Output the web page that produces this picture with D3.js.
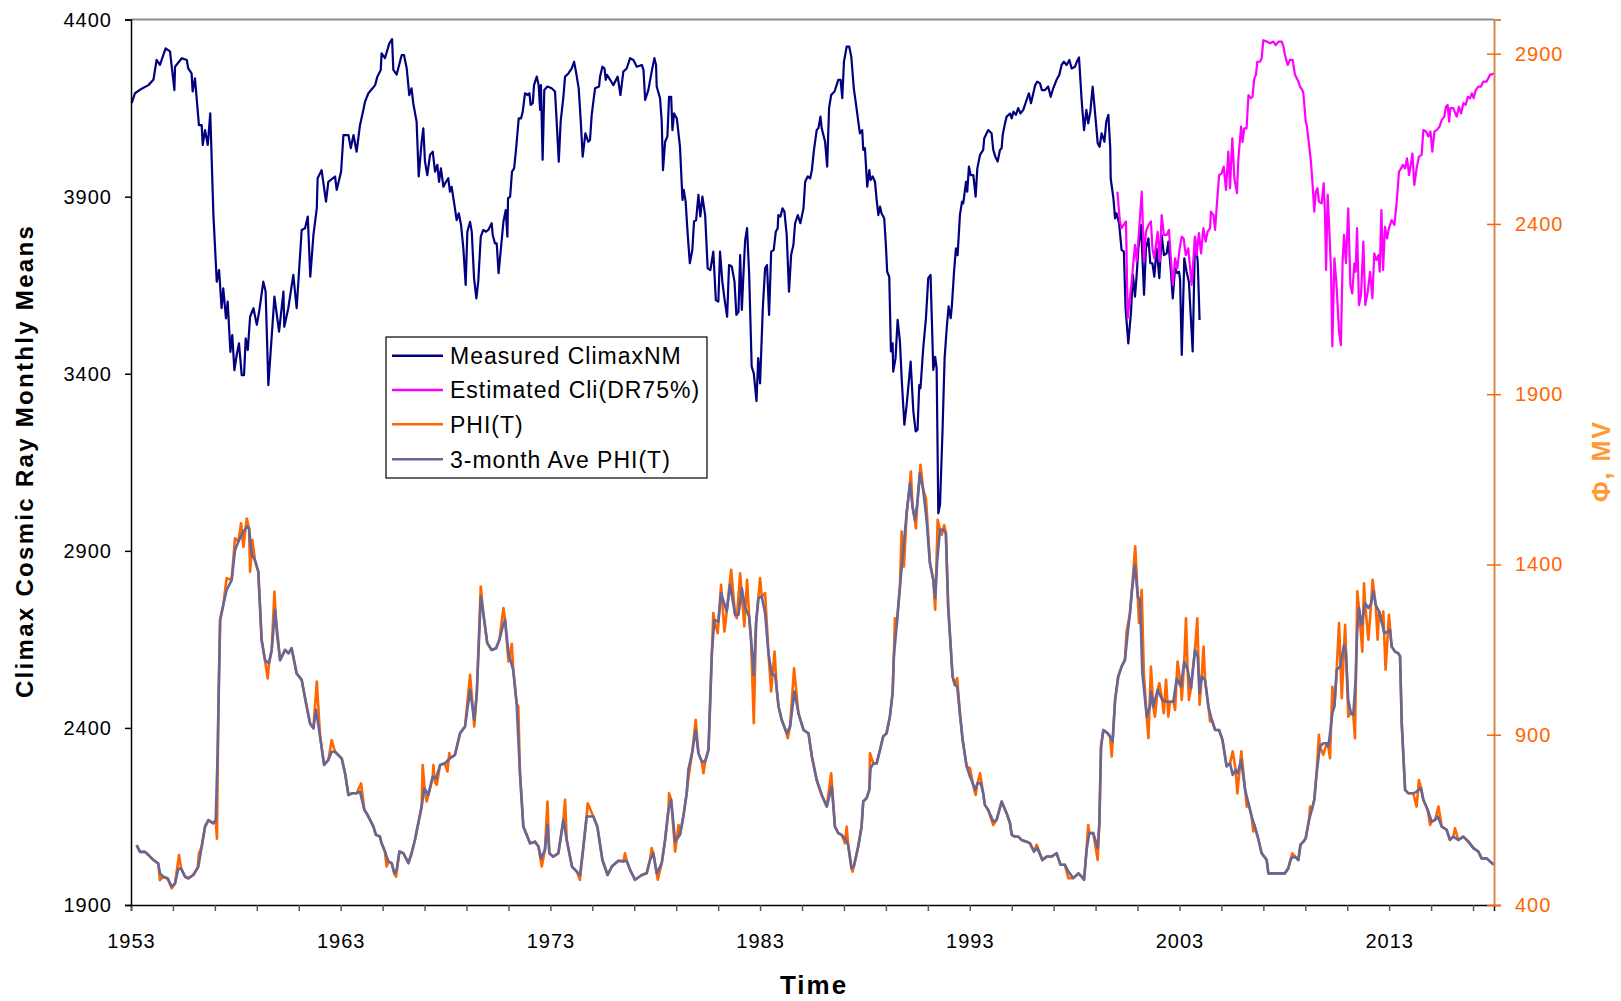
<!DOCTYPE html>
<html>
<head>
	<meta charset="utf-8">
	<title>Climax cosmic ray monthly means</title>
	<style type="text/css">
		body { margin: 0; background: #fff; }
		svg { display: block; font-family: "Liberation Sans", Arial, sans-serif; }
	</style>
</head>
<body>
<script type="text/javascript" src="https://cdn.jsdelivr.net/npm/d3@7"></script>
<script type="text/javascript">
	/*========= DATA (year, value) =========*/
	var yearLabels = [1953, 1963, 1973, 1983, 1993, 2003, 2013];
	var leftTicks = [1900, 2400, 2900, 3400, 3900, 4400];
	var rightTicks = [400, 900, 1400, 1900, 2400, 2900];
	var seriesNames = ["Measured ClimaxNM", "Estimated Cli(DR75%)", "PHI(T)", "3-month Ave PHI(T)"];

	// left axis
	var measuredClimax = [
		[1953.03,4164],[1953.19,4192],[1953.51,4205],[1953.83,4215],[1954.07,4230],[1954.22,4286],[1954.38,4272],[1954.65,4319],
		[1954.86,4310],[1955.07,4201],[1955.10,4267],[1955.42,4291],[1955.66,4286],[1955.73,4262],[1955.89,4248],[1955.94,4197],
		[1956.05,4234],[1956.24,4102],[1956.37,4102],[1956.42,4046],[1956.53,4088],[1956.66,4046],[1956.78,4135],[1956.93,3848],
		[1957.09,3660],[1957.20,3693],[1957.32,3585],[1957.40,3641],[1957.53,3556],[1957.61,3604],[1957.74,3462],[1957.83,3509],
		[1957.93,3410],[1958.04,3453],[1958.15,3486],[1958.28,3396],[1958.39,3396],[1958.47,3500],[1958.57,3467],[1958.68,3561],
		[1958.84,3585],[1959.00,3538],[1959.11,3575],[1959.31,3660],[1959.42,3632],[1959.55,3368],[1959.84,3618],[1960.06,3519],
		[1960.27,3632],[1960.31,3533],[1960.50,3585],[1960.74,3679],[1960.90,3585],[1961.14,3806],[1961.30,3811],[1961.43,3844],
		[1961.55,3674],[1961.70,3792],[1961.86,3867],[1961.90,3952],[1962.09,3975],[1962.30,3886],[1962.41,3942],[1962.73,3957],
		[1962.81,3919],[1963.02,3971],[1963.13,4074],[1963.37,4074],[1963.48,4037],[1963.61,4074],[1963.76,4027],[1963.92,4102],
		[1964.08,4145],[1964.16,4168],[1964.32,4192],[1964.52,4206],[1964.64,4215],[1964.75,4239],[1964.91,4258],[1964.95,4305],
		[1965.11,4291],[1965.32,4333],[1965.45,4345],[1965.51,4258],[1965.67,4245],[1965.91,4300],[1966.02,4300],[1966.15,4262],
		[1966.27,4187],[1966.38,4206],[1966.46,4164],[1966.62,4112],[1966.72,3957],[1966.86,4055],[1966.94,4093],[1967.02,3999],
		[1967.13,3961],[1967.26,4018],[1967.39,4027],[1967.50,3971],[1967.61,3990],[1967.69,3942],[1967.78,3980],[1967.90,3928],
		[1968.02,3942],[1968.13,3952],[1968.21,3914],[1968.29,3928],[1968.40,3886],[1968.53,3834],[1968.63,3853],[1968.74,3820],
		[1968.85,3754],[1968.96,3651],[1969.04,3801],[1969.17,3829],[1969.25,3801],[1969.36,3670],[1969.47,3613],[1969.56,3660],
		[1969.68,3787],[1969.80,3806],[1969.93,3801],[1970.04,3806],[1970.20,3825],[1970.25,3792],[1970.36,3768],[1970.44,3768],
		[1970.53,3684],[1970.65,3759],[1970.76,3829],[1970.87,3862],[1970.95,3787],[1970.98,3895],[1971.08,3900],[1971.17,3971],
		[1971.27,3980],[1971.36,4032],[1971.49,4121],[1971.60,4121],[1971.68,4140],[1971.79,4192],[1971.92,4187],[1972.00,4192],
		[1972.06,4159],[1972.16,4164],[1972.22,4215],[1972.35,4239],[1972.44,4215],[1972.51,4145],[1972.55,4215],[1972.63,4004],
		[1972.71,4201],[1972.86,4211],[1973.06,4206],[1973.22,4197],[1973.30,4112],[1973.40,3999],[1973.49,4112],[1973.62,4182],
		[1973.70,4239],[1973.86,4248],[1974.02,4262],[1974.13,4281],[1974.22,4253],[1974.35,4206],[1974.45,4112],[1974.54,4013],
		[1974.67,4079],[1974.81,4055],[1974.89,4060],[1974.97,4131],[1975.13,4206],[1975.32,4211],[1975.37,4239],[1975.48,4267],
		[1975.58,4262],[1975.64,4230],[1975.70,4244],[1975.85,4230],[1976.00,4215],[1976.21,4239],[1976.34,4187],[1976.48,4253],
		[1976.64,4262],[1976.80,4291],[1976.96,4286],[1977.12,4267],[1977.36,4272],[1977.44,4258],[1977.52,4173],[1977.67,4201],
		[1977.83,4253],[1977.96,4291],[1978.04,4272],[1978.07,4211],[1978.23,4178],[1978.31,4112],[1978.37,3975],[1978.47,4055],
		[1978.58,4070],[1978.66,4182],[1978.76,4182],[1978.82,4088],[1978.90,4135],[1979.03,4121],[1979.18,4041],[1979.30,3891],
		[1979.36,3919],[1979.45,3886],[1979.55,3792],[1979.65,3712],[1979.77,3750],[1979.85,3830],[1979.95,3834],[1980.06,3905],
		[1980.15,3844],[1980.25,3900],[1980.38,3848],[1980.50,3698],[1980.63,3693],[1980.77,3745],[1980.89,3608],[1981.01,3604],
		[1981.09,3745],[1981.20,3660],[1981.30,3613],[1981.43,3561],[1981.52,3707],[1981.65,3703],[1981.78,3660],[1981.87,3566],
		[1981.97,3575],[1982.05,3735],[1982.13,3580],[1982.22,3698],[1982.29,3778],[1982.38,3811],[1982.48,3679],[1982.60,3420],
		[1982.70,3401],[1982.83,3323],[1982.91,3444],[1983.00,3373],[1983.13,3585],[1983.24,3698],[1983.33,3707],[1983.43,3566],
		[1983.53,3745],[1983.65,3750],[1983.75,3801],[1983.84,3811],[1983.87,3848],[1983.97,3844],[1984.07,3867],[1984.16,3858],
		[1984.27,3792],[1984.38,3632],[1984.48,3735],[1984.59,3764],[1984.67,3825],[1984.80,3848],[1984.92,3825],[1985.07,3867],
		[1985.15,3942],[1985.27,3957],[1985.39,3952],[1985.47,3975],[1985.56,4027],[1985.70,4088],[1985.78,4093],[1985.88,4126],
		[1985.94,4093],[1986.10,4055],[1986.20,3985],[1986.29,4150],[1986.39,4187],[1986.55,4197],[1986.73,4230],[1986.84,4230],
		[1986.92,4178],[1987.00,4281],[1987.13,4324],[1987.25,4324],[1987.35,4295],[1987.47,4206],[1987.60,4150],[1987.76,4079],
		[1987.87,4088],[1987.92,4032],[1988.00,4037],[1988.11,3928],[1988.21,3975],[1988.27,3947],[1988.37,3957],[1988.48,3942],
		[1988.56,3891],[1988.64,3848],[1988.72,3872],[1988.79,3853],[1988.92,3839],[1989.00,3764],[1989.06,3688],[1989.16,3674],
		[1989.24,3463],[1989.32,3486],[1989.35,3406],[1989.46,3444],[1989.56,3552],[1989.67,3491],[1989.76,3378],[1989.88,3256],
		[1989.99,3312],[1990.18,3434],[1990.31,3293],[1990.42,3237],[1990.51,3242],[1990.59,3368],[1990.65,3359],[1990.78,3472],
		[1990.91,3557],[1991.02,3670],[1991.13,3679],[1991.26,3411],[1991.35,3448],[1991.42,3415],[1991.50,3006],[1991.58,3030],
		[1991.70,3237],[1991.80,3444],[1991.90,3528],[1991.99,3590],[1992.09,3557],[1992.15,3594],[1992.25,3688],[1992.34,3754],
		[1992.42,3735],[1992.53,3848],[1992.63,3886],[1992.69,3881],[1992.82,3942],[1992.88,3914],[1992.96,3985],[1993.04,3961],
		[1993.17,3961],[1993.28,3900],[1993.36,3980],[1993.49,4018],[1993.64,4032],[1993.69,4065],[1993.88,4088],[1994.04,4079],
		[1994.12,4032],[1994.22,4013],[1994.33,3999],[1994.44,4032],[1994.52,4037],[1994.57,4074],[1994.68,4107],[1994.76,4126],
		[1994.92,4135],[1995.00,4121],[1995.08,4140],[1995.20,4131],[1995.31,4150],[1995.42,4135],[1995.55,4145],[1995.71,4173],
		[1995.82,4192],[1995.92,4164],[1996.03,4192],[1996.12,4215],[1996.22,4225],[1996.35,4220],[1996.44,4201],[1996.59,4201],
		[1996.74,4211],[1996.86,4182],[1996.98,4206],[1997.14,4230],[1997.27,4244],[1997.38,4272],[1997.49,4281],[1997.62,4272],
		[1997.75,4286],[1997.86,4262],[1998.02,4267],[1998.14,4286],[1998.21,4293],[1998.34,4168],[1998.45,4088],[1998.56,4145],
		[1998.65,4107],[1998.75,4140],[1998.86,4211],[1998.97,4140],[1999.10,4051],[1999.19,4041],[1999.29,4079],[1999.42,4055],
		[1999.51,4112],[1999.61,4131],[1999.70,4037],[1999.72,3952],[1999.85,3895],[1999.93,3839],[2000.00,3853],[2000.12,3825],
		[2000.24,3750],[2000.35,3745],[2000.43,3585],[2000.56,3486],[2000.69,3575],[2000.78,3679],[2000.88,3618],[2000.96,3679],
		[2001.04,3754],[2001.17,3820],[2001.31,3623],[2001.40,3754],[2001.52,3782],[2001.61,3712],[2001.71,3712],[2001.80,3674],
		[2001.91,3754],[2002.04,3670],[2002.15,3792],[2002.26,3735],[2002.39,3740],[2002.47,3773],[2002.60,3684],[2002.68,3613],
		[2002.79,3698],[2002.90,3684],[2002.98,3688],[2003.03,3665],[2003.11,3453],[2003.23,3726],[2003.34,3688],[2003.45,3660],
		[2003.63,3463],[2003.74,3782],[2003.87,3717],[2003.96,3552]
	];

	// left axis
	var estimatedCli = [
		[2000.04,3914],[2000.16,3830],[2000.24,3811],[2000.45,3830],[2000.53,3557],[2000.72,3660],[2000.88,3764],[2000.96,3717],
		[2001.07,3801],[2001.20,3914],[2001.31,3717],[2001.40,3801],[2001.52,3820],[2001.64,3830],[2001.71,3754],[2001.80,3726],
		[2001.96,3801],[2002.06,3717],[2002.15,3848],[2002.26,3792],[2002.39,3792],[2002.50,3806],[2002.60,3717],[2002.69,3651],
		[2002.79,3726],[2002.90,3698],[2003.01,3754],[2003.11,3787],[2003.20,3782],[2003.30,3735],[2003.42,3754],[2003.58,3651],
		[2003.74,3787],[2003.82,3735],[2003.93,3797],[2004.03,3740],[2004.14,3811],[2004.25,3773],[2004.34,3801],[2004.46,3811],
		[2004.50,3858],[2004.62,3848],[2004.70,3806],[2004.77,3867],[2004.89,3961],[2005.01,3966],[2005.11,3985],[2005.22,3919],
		[2005.33,4027],[2005.41,3924],[2005.52,4065],[2005.62,3952],[2005.74,3910],[2005.81,4008],[2005.94,4098],[2006.01,4055],
		[2006.09,4093],[2006.20,4093],[2006.29,4187],[2006.40,4178],[2006.48,4182],[2006.57,4234],[2006.65,4244],[2006.71,4281],
		[2006.84,4281],[2006.92,4291],[2007.00,4342],[2007.16,4338],[2007.32,4333],[2007.48,4338],[2007.59,4328],[2007.72,4338],
		[2007.88,4338],[2007.96,4324],[2008.03,4300],[2008.16,4272],[2008.27,4286],[2008.40,4286],[2008.51,4244],[2008.67,4225],
		[2008.75,4211],[2008.86,4201],[2008.91,4192],[2009.02,4112],[2009.07,4102],[2009.18,4046],[2009.27,3999],[2009.34,3942],
		[2009.43,3858],[2009.50,3914],[2009.58,3924],[2009.65,3886],[2009.78,3881],[2009.88,3938],[2009.94,3848],[2009.99,3693],
		[2010.07,3905],[2010.15,3801],[2010.23,3688],[2010.29,3477],[2010.39,3726],[2010.48,3660],[2010.61,3519],[2010.70,3481],
		[2010.78,3717],[2010.85,3792],[2010.94,3712],[2011.05,3867],[2011.15,3651],[2011.24,3627],[2011.34,3712],[2011.40,3688],
		[2011.47,3811],[2011.56,3594],[2011.66,3623],[2011.77,3773],[2011.86,3594],[2011.98,3632],[2012.09,3688],[2012.20,3613],
		[2012.29,3740],[2012.39,3721],[2012.49,3735],[2012.55,3688],[2012.63,3862],[2012.71,3693],[2012.80,3815],[2012.90,3782],
		[2012.99,3811],[2013.12,3834],[2013.25,3820],[2013.36,3886],[2013.47,3971],[2013.57,3980],[2013.65,3990],[2013.76,3980],
		[2013.85,4008],[2013.95,3961],[2014.04,3994],[2014.11,4022],[2014.20,3933],[2014.31,3980],[2014.42,4013],[2014.55,4018],
		[2014.63,4088],[2014.76,4084],[2014.87,4070],[2014.97,4084],[2015.06,4027],[2015.16,4084],[2015.27,4088],[2015.40,4098],
		[2015.51,4117],[2015.63,4126],[2015.71,4154],[2015.79,4159],[2015.86,4112],[2015.92,4150],[2016.06,4150],[2016.22,4126],
		[2016.33,4154],[2016.43,4135],[2016.54,4164],[2016.65,4159],[2016.75,4182],[2016.86,4178],[2016.94,4192],[2017.03,4178],
		[2017.13,4201],[2017.25,4211],[2017.38,4211],[2017.49,4225],[2017.65,4225],[2017.81,4244],[2018.00,4248]
	];

	// right axis
	var phiT = [
		[1953.27,575],[1953.43,556],[1953.67,556],[1953.83,547],[1954.07,532],[1954.30,522],[1954.38,473],[1954.54,483],
		[1954.75,478],[1954.94,449],[1955.10,463],[1955.29,547],[1955.39,507],[1955.58,483],[1955.73,478],[1955.97,488],
		[1956.18,510],[1956.24,552],[1956.37,571],[1956.53,630],[1956.69,649],[1956.93,640],[1957.04,649],[1957.10,595],
		[1957.17,1000],[1957.25,1237],[1957.40,1281],[1957.56,1360],[1957.80,1354],[1957.96,1477],[1958.12,1467],[1958.25,1521],
		[1958.36,1452],[1958.52,1535],[1958.63,1506],[1958.68,1379],[1958.79,1472],[1958.91,1413],[1959.07,1379],[1959.23,1178],
		[1959.39,1119],[1959.52,1065],[1959.58,1110],[1959.71,1149],[1959.84,1320],[1959.95,1200],[1960.11,1119],[1960.35,1149],
		[1960.51,1139],[1960.66,1154],[1960.90,1080],[1961.14,1061],[1961.38,982],[1961.54,933],[1961.70,919],[1961.86,1056],
		[1962.02,894],[1962.21,811],[1962.41,826],[1962.57,884],[1962.73,850],[1963.05,830],[1963.21,786],[1963.37,723],
		[1963.53,728],[1963.76,728],[1963.97,757],[1964.13,679],[1964.24,669],[1964.40,650],[1964.56,630],[1964.68,606],
		[1964.87,601],[1964.95,581],[1965.11,557],[1965.19,513],[1965.27,528],[1965.43,523],[1965.56,493],[1965.64,483],
		[1965.80,557],[1965.99,552],[1966.23,523],[1966.38,552],[1966.54,591],[1966.70,640],[1966.86,689],[1966.91,811],
		[1967.02,730],[1967.10,704],[1967.18,723],[1967.39,777],[1967.42,811],[1967.50,760],[1967.58,753],[1967.74,811],
		[1967.97,816],[1968.09,792],[1968.18,846],[1968.21,831],[1968.45,841],[1968.69,904],[1968.93,924],[1969.17,1076],
		[1969.37,924],[1969.49,1022],[1969.68,1335],[1969.80,1257],[1969.99,1169],[1970.20,1149],[1970.41,1154],[1970.57,1179],
		[1970.76,1272],[1970.84,1237],[1971.00,1115],[1971.16,1167],[1971.23,1090],[1971.39,992],[1971.47,983],[1971.55,787],
		[1971.71,630],[1971.87,606],[1972.03,581],[1972.27,586],[1972.43,572],[1972.59,513],[1972.74,562],[1972.86,704],
		[1972.95,552],[1973.14,542],[1973.38,552],[1973.62,650],[1973.70,709],[1973.78,591],[1974.03,513],[1974.26,498],
		[1974.41,474],[1974.54,552],[1974.73,660],[1974.78,699],[1975.05,660],[1975.24,630],[1975.48,532],[1975.73,488],
		[1975.93,513],[1976.24,530],[1976.48,528],[1976.56,552],[1976.64,530],[1976.80,503],[1977.04,474],[1977.36,488],
		[1977.59,493],[1977.75,532],[1977.83,567],[1977.91,552],[1978.07,493],[1978.12,474],[1978.31,523],[1978.47,591],
		[1978.63,679],[1978.66,728],[1978.76,709],[1978.95,557],[1979.11,635],[1979.18,606],[1979.34,660],[1979.50,728],
		[1979.58,772],[1979.77,851],[1979.93,944],[1980.06,846],[1980.22,821],[1980.30,787],[1980.38,821],[1980.54,856],
		[1980.70,1139],[1980.77,1257],[1980.82,1237],[1980.98,1198],[1981.14,1340],[1981.30,1203],[1981.41,1262],[1981.62,1384],
		[1981.81,1252],[1981.89,1242],[1982.05,1374],[1982.25,1218],[1982.38,1355],[1982.48,1247],[1982.57,1179],[1982.70,934],
		[1982.81,1228],[1983.00,1360],[1983.08,1306],[1983.24,1316],[1983.40,1139],[1983.53,1027],[1983.69,1144],[1983.80,1030],
		[1983.88,983],[1984.03,944],[1984.27,904],[1984.32,890],[1984.43,924],[1984.62,1095],[1984.83,963],[1985.07,914],
		[1985.31,904],[1985.47,836],[1985.70,767],[1985.94,723],[1986.18,689],[1986.39,787],[1986.57,630],[1986.73,611],
		[1986.89,606],[1987.05,581],[1987.13,630],[1987.20,577],[1987.36,508],[1987.41,498],[1987.47,513],[1987.68,572],
		[1987.84,630],[1987.92,704],[1988.08,714],[1988.21,738],[1988.24,846],[1988.40,816],[1988.56,816],[1988.72,856],
		[1988.87,895],[1989.03,904],[1989.19,953],[1989.32,1022],[1989.38,1130],[1989.43,1242],[1989.51,1218],[1989.67,1335],
		[1989.75,1497],[1989.86,1394],[1989.99,1551],[1990.15,1639],[1990.19,1673],[1990.27,1570],[1990.38,1531],[1990.43,1506],
		[1990.50,1580],[1990.65,1693],[1990.78,1619],[1990.91,1595],[1991.10,1404],[1991.26,1355],[1991.35,1267],[1991.47,1531],
		[1991.58,1502],[1991.66,1487],[1991.78,1516],[1991.86,1492],[1991.97,1277],[1992.09,1159],[1992.18,1071],[1992.29,1046],
		[1992.40,1066],[1992.53,963],[1992.66,885],[1992.85,807],[1993.01,802],[1993.14,758],[1993.28,723],[1993.37,758],
		[1993.49,787],[1993.64,728],[1993.72,694],[1993.88,679],[1994.12,635],[1994.28,650],[1994.52,704],[1994.76,669],
		[1994.92,640],[1995.00,606],[1995.15,601],[1995.31,601],[1995.47,591],[1995.71,586],[1995.87,581],[1996.06,557],
		[1996.19,577],[1996.46,532],[1996.67,542],[1996.90,542],[1997.14,552],[1997.33,518],[1997.54,518],[1997.70,479],
		[1997.94,479],[1998.18,493],[1998.34,483],[1998.45,474],[1998.57,562],[1998.65,635],[1998.70,611],[1998.89,611],
		[1999.10,532],[1999.18,640],[1999.26,865],[1999.37,914],[1999.58,904],[1999.69,895],[1999.77,836],[1999.93,1002],
		[2000.08,1071],[2000.24,1100],[2000.40,1120],[2000.48,1203],[2000.64,1257],[2000.72,1316],[2000.89,1453],[2001.01,1306],
		[2001.07,1228],[2001.20,1325],[2001.30,1081],[2001.44,953],[2001.52,890],[2001.64,1100],[2001.75,983],[2001.83,953],
		[2001.96,1032],[2002.04,1051],[2002.18,1002],[2002.25,963],[2002.36,1061],[2002.47,953],[2002.55,997],[2002.71,997],
		[2002.79,973],[2002.91,1115],[2003.07,1041],[2003.11,1002],[2003.23,1115],[2003.31,1242],[2003.39,1091],[2003.45,1002],
		[2003.55,1037],[2003.74,1149],[2003.85,1242],[2003.96,988],[2004.06,1071],[2004.15,1159],[2004.22,1061],[2004.38,983],
		[2004.46,939],[2004.54,944],[2004.70,914],[2004.89,914],[2005.05,885],[2005.25,807],[2005.41,816],[2005.54,851],
		[2005.68,797],[2005.76,728],[2005.95,851],[2006.13,738],[2006.21,689],[2006.29,699],[2006.44,660],[2006.52,616],
		[2006.57,635],[2006.73,601],[2006.92,552],[2007.16,532],[2007.24,493],[2007.40,493],[2007.72,493],[2008.03,493],
		[2008.19,508],[2008.32,537],[2008.38,552],[2008.51,542],[2008.67,532],[2008.77,577],[2008.91,586],[2009.02,596],
		[2009.18,650],[2009.23,689],[2009.31,679],[2009.43,709],[2009.54,787],[2009.65,900],[2009.70,865],[2009.86,841],
		[2010.02,875],[2010.10,865],[2010.18,831],[2010.29,1041],[2010.39,983],[2010.50,1091],[2010.61,1228],[2010.74,1007],
		[2010.90,1223],[2011.05,953],[2011.18,963],[2011.29,958],[2011.37,890],[2011.48,1321],[2011.56,1272],[2011.72,1144],
		[2011.80,1345],[2011.85,1286],[2012.01,1179],[2012.14,1286],[2012.21,1355],[2012.36,1281],[2012.45,1179],[2012.52,1262],
		[2012.64,1232],[2012.72,1262],[2012.83,1091],[2012.99,1252],[2013.12,1159],[2013.28,1144],[2013.44,1139],[2013.52,1130],
		[2013.60,934],[2013.76,738],[2013.92,728],[2014.15,728],[2014.31,689],[2014.42,767],[2014.52,743],[2014.63,709],
		[2014.84,679],[2014.95,635],[2015.03,645],[2015.19,650],[2015.35,689],[2015.51,630],[2015.74,621],[2015.90,591],
		[2016.06,601],[2016.14,625],[2016.30,591],[2016.54,601],[2016.78,586],[2017.02,567],[2017.25,557],[2017.41,537],
		[2017.65,537],[2017.81,528],[2018.00,518]
	];

	// right axis
	var phiAve3 = [
		[1953.27,576],[1953.43,556],[1953.67,556],[1953.83,547],[1954.07,532],[1954.30,522],[1954.38,493],[1954.54,483],
		[1954.75,478],[1954.94,454],[1955.10,463],[1955.26,507],[1955.39,507],[1955.58,483],[1955.73,478],[1955.97,488],
		[1956.21,512],[1956.37,571],[1956.53,630],[1956.69,649],[1956.93,640],[1957.04,649],[1957.13,845],[1957.25,1237],
		[1957.40,1281],[1957.56,1325],[1957.80,1354],[1957.96,1442],[1958.12,1467],[1958.31,1491],[1958.52,1511],[1958.63,1506],
		[1958.76,1428],[1958.91,1413],[1959.07,1379],[1959.23,1178],[1959.39,1119],[1959.58,1110],[1959.71,1149],[1959.87,1266],
		[1960.11,1119],[1960.35,1149],[1960.51,1139],[1960.66,1154],[1960.90,1080],[1961.14,1061],[1961.38,982],[1961.54,933],
		[1961.70,919],[1961.82,973],[1962.02,894],[1962.21,811],[1962.41,826],[1962.57,850],[1962.73,850],[1963.05,830],
		[1963.21,786],[1963.37,723],[1963.53,728],[1963.76,728],[1963.92,733],[1964.13,679],[1964.24,669],[1964.40,650],
		[1964.56,630],[1964.68,606],[1964.87,601],[1964.95,581],[1965.11,557],[1965.27,528],[1965.43,523],[1965.56,493],
		[1965.67,503],[1965.80,557],[1965.99,552],[1966.23,523],[1966.38,552],[1966.54,591],[1966.70,640],[1966.86,689],
		[1966.99,743],[1967.18,723],[1967.39,777],[1967.55,772],[1967.74,811],[1967.97,816],[1968.21,831],[1968.45,841],
		[1968.69,904],[1968.93,924],[1969.17,1032],[1969.37,944],[1969.49,1022],[1969.68,1306],[1969.80,1257],[1969.99,1169],
		[1970.20,1149],[1970.41,1154],[1970.57,1179],[1970.73,1218],[1970.84,1237],[1971.00,1139],[1971.23,1090],[1971.39,992],
		[1971.55,787],[1971.71,630],[1971.87,606],[1972.03,581],[1972.27,586],[1972.43,572],[1972.55,537],[1972.74,562],
		[1972.86,635],[1972.95,552],[1973.14,542],[1973.38,552],[1973.62,650],[1973.78,591],[1974.03,513],[1974.26,498],
		[1974.41,488],[1974.54,552],[1974.73,660],[1975.05,660],[1975.24,630],[1975.48,532],[1975.73,488],[1975.93,513],
		[1976.24,530],[1976.48,528],[1976.64,530],[1976.80,503],[1977.04,474],[1977.36,488],[1977.59,493],[1977.75,532],
		[1977.91,552],[1978.07,493],[1978.31,523],[1978.47,591],[1978.63,679],[1978.76,709],[1978.95,586],[1979.18,606],
		[1979.34,660],[1979.50,728],[1979.58,797],[1979.77,851],[1979.93,914],[1980.06,846],[1980.22,821],[1980.38,821],
		[1980.54,856],[1980.70,1139],[1980.82,1237],[1981.01,1232],[1981.14,1316],[1981.41,1262],[1981.57,1340],[1981.81,1252],
		[1981.97,1252],[1982.13,1330],[1982.29,1272],[1982.48,1247],[1982.57,1179],[1982.70,1076],[1982.81,1228],[1982.92,1301],
		[1983.08,1306],[1983.24,1257],[1983.40,1139],[1983.56,1076],[1983.72,1076],[1983.88,983],[1984.03,944],[1984.27,904],
		[1984.43,924],[1984.64,1027],[1984.83,963],[1985.07,914],[1985.31,904],[1985.47,836],[1985.70,767],[1985.94,723],
		[1986.18,689],[1986.42,748],[1986.57,630],[1986.73,611],[1986.89,606],[1987.05,596],[1987.20,577],[1987.36,508],
		[1987.47,513],[1987.68,572],[1987.84,630],[1987.92,704],[1988.08,714],[1988.21,738],[1988.27,802],[1988.40,816],
		[1988.56,816],[1988.72,856],[1988.87,895],[1989.03,904],[1989.19,953],[1989.32,1022],[1989.38,1130],[1989.51,1218],
		[1989.67,1335],[1989.83,1443],[1989.99,1551],[1990.15,1639],[1990.27,1570],[1990.38,1531],[1990.50,1580],[1990.62,1668],
		[1990.78,1619],[1990.94,1531],[1991.10,1404],[1991.26,1355],[1991.35,1301],[1991.45,1413],[1991.58,1502],[1991.74,1502],
		[1991.86,1492],[1991.97,1277],[1992.09,1159],[1992.18,1071],[1992.29,1046],[1992.40,1042],[1992.53,963],[1992.66,885],
		[1992.85,807],[1993.01,777],[1993.14,758],[1993.25,738],[1993.37,758],[1993.52,758],[1993.64,728],[1993.72,694],
		[1993.88,679],[1994.12,645],[1994.28,650],[1994.52,704],[1994.76,669],[1994.92,640],[1995.00,606],[1995.15,601],
		[1995.31,601],[1995.47,591],[1995.71,586],[1995.87,581],[1996.06,557],[1996.22,567],[1996.46,532],[1996.67,542],
		[1996.90,542],[1997.14,552],[1997.33,518],[1997.54,518],[1997.70,498],[1997.94,479],[1998.18,493],[1998.34,483],
		[1998.45,474],[1998.57,562],[1998.70,611],[1998.89,611],[1999.10,567],[1999.18,640],[1999.26,865],[1999.37,914],
		[1999.58,904],[1999.69,895],[1999.81,880],[1999.93,1002],[2000.08,1071],[2000.24,1100],[2000.40,1120],[2000.53,1198],
		[2000.64,1257],[2000.72,1316],[2000.88,1399],[2001.01,1306],[2001.12,1296],[2001.23,1081],[2001.44,953],[2001.59,983],
		[2001.64,1027],[2001.75,983],[2001.96,1032],[2002.18,1002],[2002.39,997],[2002.55,997],[2002.71,997],[2002.87,1066],
		[2003.07,1041],[2003.23,1115],[2003.39,1091],[2003.55,1037],[2003.74,1149],[2003.87,1130],[2003.96,1022],[2004.06,1071],
		[2004.22,1061],[2004.38,983],[2004.54,944],[2004.70,914],[2004.89,914],[2005.05,885],[2005.25,807],[2005.41,816],
		[2005.54,782],[2005.68,797],[2005.78,787],[2005.94,826],[2006.13,738],[2006.29,699],[2006.44,660],[2006.57,635],
		[2006.73,601],[2006.92,552],[2007.16,532],[2007.24,493],[2007.40,493],[2007.72,493],[2008.03,493],[2008.19,508],
		[2008.32,537],[2008.51,542],[2008.67,532],[2008.77,577],[2008.91,586],[2009.02,596],[2009.18,650],[2009.31,679],
		[2009.43,709],[2009.54,787],[2009.70,865],[2009.86,875],[2010.02,875],[2010.10,865],[2010.20,914],[2010.29,963],
		[2010.39,983],[2010.50,1091],[2010.66,1100],[2010.85,1164],[2010.94,1139],[2011.05,1002],[2011.18,963],[2011.29,958],
		[2011.40,1061],[2011.47,1198],[2011.56,1272],[2011.69,1223],[2011.85,1286],[2012.01,1272],[2012.14,1286],[2012.25,1321],
		[2012.36,1281],[2012.52,1262],[2012.64,1232],[2012.77,1198],[2012.93,1203],[2013.04,1208],[2013.12,1159],[2013.28,1144],
		[2013.44,1139],[2013.52,1130],[2013.60,934],[2013.76,738],[2013.92,728],[2014.15,728],[2014.31,733],[2014.52,743],
		[2014.63,709],[2014.84,679],[2015.03,645],[2015.19,650],[2015.32,660],[2015.51,630],[2015.74,621],[2015.90,591],
		[2016.06,601],[2016.30,591],[2016.54,601],[2016.78,586],[2017.02,567],[2017.25,557],[2017.41,537],[2017.65,537],
		[2017.81,528],[2018.00,518]
	];

	/*========= SIZE =========*/
	var w = 1621, h = 1001;
	var plotLeft = 131, plotRight = 1494, plotTop = 19.6, plotBottom = 905;

	var svg = d3.select("body").append("svg").attr("width", w).attr("height", h);

	/*========= SCALES =========*/
	var x = d3.scaleLinear().domain([1953, 2018]).range([plotLeft, plotRight]);
	var yL = d3.scaleLinear().domain([1900, 4400]).range([plotBottom, plotTop]);
	var yR = d3.scaleLinear().domain([400, 3000]).range([plotBottom, plotTop]);

	var tickFont = 20;
	var plain = d3.format("d");

	// plot border (top, grey)
	svg.append("line")
		.attr("x1", plotLeft).attr("x2", plotRight).attr("y1", plotTop).attr("y2", plotTop)
		.attr("stroke", "#8c8c8c").attr("stroke-width", 2);

	/*========= LINES =========*/
	var lineL = d3.line().x(function(d){ return x(d[0]); }).y(function(d){ return yL(d[1]); });
	var lineR = d3.line().x(function(d){ return x(d[0]); }).y(function(d){ return yR(d[1]); });

	var series = [
		{ data: measuredClimax, line: lineL, color: "#000080", width: 2.2 },
		{ data: estimatedCli, line: lineL, color: "#ff00ff", width: 2.2 },
		{ data: phiT, line: lineR, color: "#ff6600", width: 2.6 },
		{ data: phiAve3, line: lineR, color: "#666699", width: 2.6 }
	];

	svg.selectAll("path.series")
		.data(series)
		.enter()
		.append("path")
		.attr("class", "series")
		.attr("fill", "none")
		.attr("stroke", function(d){ return d.color; })
		.attr("stroke-width", function(d){ return d.width; })
		.attr("stroke-linejoin", "round")
		.attr("d", function(d){ return d.line(d.data); });

	/*========= AXES =========*/
	// bottom
	var xAxis = d3.axisBottom(x)
		.tickValues(d3.range(1953, 2018, 2))
		.tickSize(6)
		.tickFormat(function(d){ return yearLabels.indexOf(d) >= 0 ? plain(d) : ""; })
		.tickPadding(23);
	var gx = svg.append("g").attr("transform", "translate(0," + plotBottom + ")").call(xAxis);
	gx.select(".domain").attr("stroke", "#000").attr("stroke-width", 1.5);
	gx.selectAll(".tick line").attr("stroke", "#555").attr("stroke-width", 1.5);
	gx.selectAll("text").attr("font-size", tickFont).attr("fill", "#000")
		.attr("letter-spacing", 1).attr("font-family", "Liberation Sans, Arial, sans-serif");

	// left
	var yAxisL = d3.axisLeft(yL).tickValues(leftTicks).tickFormat(plain).tickSize(6).tickPadding(13);
	var gl = svg.append("g").attr("transform", "translate(" + plotLeft + ",0)").call(yAxisL);
	gl.select(".domain").attr("stroke", "#000").attr("stroke-width", 1.5);
	gl.selectAll(".tick line").attr("stroke", "#000").attr("stroke-width", 1.5);
	gl.selectAll("text").attr("font-size", tickFont).attr("fill", "#000")
		.attr("letter-spacing", 1).attr("font-family", "Liberation Sans, Arial, sans-serif");

	// right (ticks cross the axis line)
	var yAxisR = d3.axisRight(yR).tickValues(rightTicks).tickFormat(plain).tickSize(7).tickPadding(14);
	var gr = svg.append("g").attr("transform", "translate(" + plotRight + ",0)").call(yAxisR);
	gr.select(".domain").attr("stroke", "#d9884a").attr("stroke-width", 2);
	gr.selectAll(".tick line").attr("x1", -7).attr("stroke", "#ff6600").attr("stroke-width", 1.5);
	gr.selectAll("text").attr("font-size", tickFont).attr("fill", "#ff6600")
		.attr("letter-spacing", 1).attr("font-family", "Liberation Sans, Arial, sans-serif");

	/*========= TITLES =========*/
	svg.append("text")
		.attr("transform", "translate(33,461) rotate(-90)")
		.attr("text-anchor", "middle")
		.attr("font-size", 24).attr("font-weight", "bold").attr("letter-spacing", 2.3)
		.text("Climax Cosmic Ray Monthly Means");

	svg.append("text")
		.attr("transform", "translate(1610,461) rotate(-90)")
		.attr("text-anchor", "middle")
		.attr("font-size", 25).attr("font-weight", "bold").attr("letter-spacing", 2)
		.attr("fill", "#ff9933")
		.text("\u03A6, MV");

	svg.append("text")
		.attr("x", 814).attr("y", 994)
		.attr("text-anchor", "middle")
		.attr("font-size", 26).attr("font-weight", "bold").attr("letter-spacing", 2)
		.text("Time");

	/*========= LEGEND =========*/
	var legend = svg.append("g").attr("transform", "translate(386,337)");
	legend.append("rect")
		.attr("width", 321).attr("height", 141)
		.attr("fill", "#fff").attr("stroke", "#000").attr("stroke-width", 1.2);

	var rows = legend.selectAll("g.row")
		.data(series)
		.enter()
		.append("g")
		.attr("class", "row")
		.attr("transform", function(d, i){ return "translate(0," + [18.7, 53, 87.3, 122.3][i] + ")"; });

	rows.append("line")
		.attr("x1", 6).attr("x2", 57)
		.attr("stroke", function(d){ return d.color; })
		.attr("stroke-width", 2.5);

	rows.append("text")
		.attr("x", 64).attr("dy", "0.36em")
		.attr("font-size", 23).attr("letter-spacing", 1)
		.text(function(d, i){ return seriesNames[i]; });
</script>
</body>
</html>
